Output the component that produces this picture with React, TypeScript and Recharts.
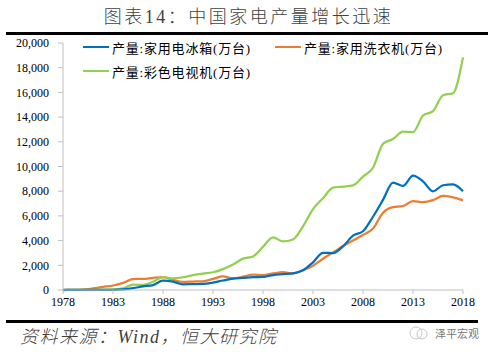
import { LineChart, Line, XAxis, YAxis } from 'recharts';

const COLORS = {
  fridge: '#0070C0',
  washer: '#ED7D31',
  tv: '#92D050',
  axis: '#BFBFBF',
  text: '#404040',
};

const years = [
  1978, 1979, 1980, 1981, 1982, 1983, 1984, 1985, 1986, 1987,
  1988, 1989, 1990, 1991, 1992, 1993, 1994, 1995, 1996, 1997,
  1998, 1999, 2000, 2001, 2002, 2003, 2004, 2005, 2006, 2007,
  2008, 2009, 2010, 2011, 2012, 2013, 2014, 2015, 2016, 2017, 2018,
];

// 产量:家用电冰箱(万台)
const fridge = [
  3, 3, 5, 6, 10, 19, 55, 145, 290, 401,
  758, 671, 463, 470, 486, 597, 768, 919, 980, 1044,
  1060, 1210, 1279, 1349, 1599, 2243, 3008, 2987, 3531, 4397,
  4757, 5930, 7296, 8699, 8427, 9261, 8796, 7993, 8482, 8548, 7993,
];

// 产量:家用洗衣机(万台)
const washer = [
  0, 2, 25, 128, 253, 366, 578, 887, 899, 990,
  1047, 825, 663, 687, 708, 896, 1094, 948, 1075, 1254,
  1207, 1342, 1443, 1341, 1596, 1964, 2533, 3036, 3561, 4005,
  4447, 4974, 6248, 6716, 6791, 7202, 7114, 7275, 7621, 7500, 7262,
];

// 产量:彩色电视机(万台)
const tv = [
  0, 1, 3, 15, 29, 53, 129, 435, 412, 672,
  1038, 940, 1033, 1205, 1333, 1436, 1689, 2058, 2538, 2711,
  3497, 4262, 3936, 4094, 5155, 6541, 7432, 8283, 8375, 8478,
  9187, 9899, 11830, 12231, 12824, 12776, 14129, 14476, 15770, 15933, 18835,
];

const xTicks = [1978, 1983, 1988, 1993, 1998, 2003, 2008, 2013, 2018];
const yTicks = [0, 2000, 4000, 6000, 8000, 10000, 12000, 14000, 16000, 18000, 20000];

const data = years.map((year, i) => ({
  year,
  fridge: fridge[i],
  washer: washer[i],
  tv: tv[i],
}));

const serif = '"Liberation Serif", "Times New Roman", serif';
const cjk = '"Liberation Serif", "Noto Sans CJK SC", serif';

const legendItems = [
  { name: '产量:家用电冰箱(万台)', color: COLORS.fridge, left: 83, top: 39 },
  { name: '产量:家用洗衣机(万台)', color: COLORS.washer, left: 275, top: 39 },
  { name: '产量:彩色电视机(万台)', color: COLORS.tv, left: 83, top: 63 },
];

function LegendBox() {
  return (
    <>
      {legendItems.map((item) => (
        <div
          key={item.name}
          style={{ position: 'absolute', left: item.left, top: item.top, height: 16, display: 'flex', alignItems: 'center' }}
        >
          <div style={{ width: 26, height: 2, background: item.color, marginRight: 3 }} />
          <span style={{ fontFamily: cjk, fontSize: 13, letterSpacing: 0.8, color: '#000', whiteSpace: 'nowrap' }}>
            {item.name}
          </span>
        </div>
      ))}
    </>
  );
}

export default function App() {
  return (
    <div style={{ position: 'absolute', left: 0, top: 0, width: 497, height: 356, background: '#fff', overflow: 'hidden' }}>
      <div
        style={{
          position: 'absolute', top: 5, left: 0, width: 497, textAlign: 'center',
          fontFamily: cjk, fontSize: 18, fontWeight: 300, letterSpacing: 2.5, color: COLORS.text, lineHeight: '24px',
        }}
      >
        图表14：中国家电产量增长迅速
      </div>

      <div style={{ position: 'absolute', top: 0, left: 0 }}>
        <LineChart
          width={497}
          height={320}
          data={data}
          margin={{ top: 43, right: 34, bottom: 0, left: 8 }}
          style={{ fontFamily: serif }}
        >
          <XAxis
            dataKey="year"
            type="number"
            domain={[1978, 2018]}
            ticks={xTicks}
            interval={0}
            stroke={COLORS.axis}
            tickSize={4}
            tickMargin={3}
            height={30}
            tick={{ fontSize: 12, fill: '#000', fontFamily: serif }}
          />
          <YAxis
            domain={[0, 20000]}
            ticks={yTicks}
            interval={0}
            stroke={COLORS.axis}
            tickSize={5}
            tickMargin={9}
            width={55}
            tick={{ fontSize: 12, fill: '#000', fontFamily: serif }}
            tickFormatter={(v: number) => v.toLocaleString('en-US')}
          />
          <Line type="monotone" dataKey="washer" stroke={COLORS.washer} strokeWidth={2.25} dot={false} isAnimationActive={false} />
          <Line type="monotone" dataKey="tv" stroke={COLORS.tv} strokeWidth={2.25} dot={false} isAnimationActive={false} />
          <Line type="monotone" dataKey="fridge" stroke={COLORS.fridge} strokeWidth={2.25} dot={false} isAnimationActive={false} />
        </LineChart>
      </div>

      <LegendBox />

      <div style={{ position: 'absolute', top: 32, left: 6, width: 482, height: 3, background: '#000' }} />
      <div style={{ position: 'absolute', top: 320, left: 6, width: 472, height: 3, background: '#000' }} />

      <div
        style={{
          position: 'absolute', top: 326, left: 20, fontFamily: cjk, fontStyle: 'italic', fontWeight: 300,
          fontSize: 18, letterSpacing: 1.5, color: COLORS.text, lineHeight: '22px', whiteSpace: 'nowrap',
        }}
      >
        资料来源：Wind，恒大研究院
      </div>

      <div style={{ position: 'absolute', top: 325, left: 408, display: 'flex', alignItems: 'center' }}>
        <svg width={22} height={16}>
          <circle cx={8} cy={8} r={6} fill="none" stroke="#C8C8C8" strokeWidth={1} />
          <circle cx={14} cy={9} r={5} fill="none" stroke="#C8C8C8" strokeWidth={1} />
        </svg>
        <span style={{ marginLeft: 5, fontFamily: '"Noto Sans CJK SC", sans-serif', fontSize: 11, color: '#777' }}>
          泽平宏观
        </span>
      </div>
    </div>
  );
}
